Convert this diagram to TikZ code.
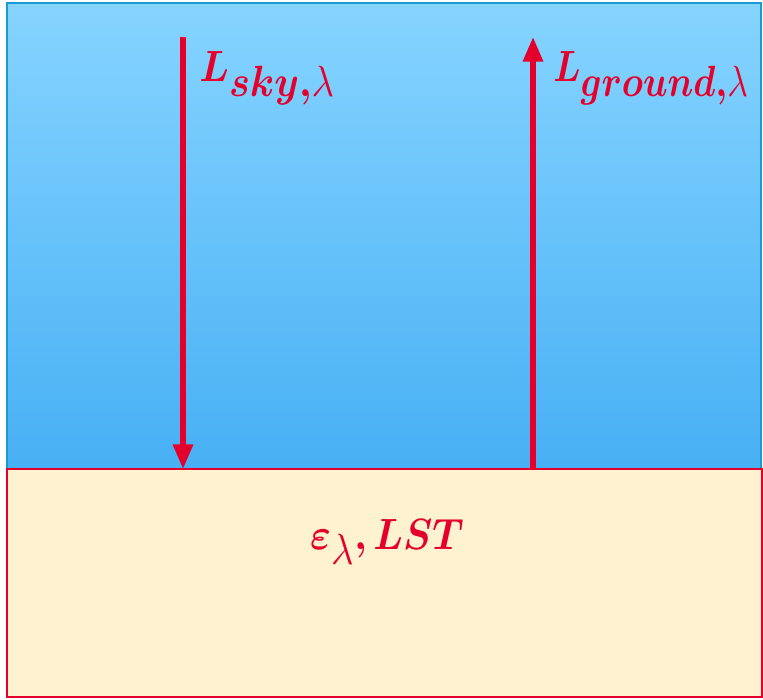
\documentclass[tikz,border=0pt]{standalone}
\definecolor{SkyTop}{HTML}{86D4FF}
\definecolor{SkyBottom}{HTML}{47B0F4}
\definecolor{SkyEdge}{HTML}{1B9AD6}
\definecolor{GroundFill}{HTML}{FEF2D1}
\definecolor{FluxRed}{HTML}{E4002B}
\usepackage{tikz}
\usetikzlibrary{arrows.meta, positioning, calc}
\usepackage{amsmath}
\usepackage{amssymb}
\usepackage{bm}
\tikzset{
    % Layer boxes with sharp corners
    layer/.style={
        rectangle,
        anchor=north west,
        inner sep=0pt,
        outer sep=0pt,
        line width=1.2pt
    },
    layer sky/.style={
        layer,
        draw=SkyEdge,
        top color=SkyTop,
        bottom color=SkyBottom,
        minimum width=15.08cm,
        minimum height=9.32cm
    },
    layer ground/.style={
        layer,
        draw=FluxRed,
        fill=GroundFill,
        minimum width=15.1cm,
        minimum height=4.56cm
    },
    flux label/.style={
        text=FluxRed,
        inner sep=0pt,
        xscale=0.9,
        font=\fontsize{33}{38}\selectfont
    },
    flux arrow/.style={
        -{Triangle[length=14pt, width=11pt]},
        line width=3pt,
        FluxRed
    }
}
\begin{document}
\begin{tikzpicture}[x=0.02cm, y=-0.02cm]
        \useasboundingbox (0,0) rectangle (763,699);

        % Sky
        \node[layer sky] (sky) at (7,3) {};

        % Ground
        \node[layer ground] (ground) at (7,469) {};

        % Arrow ends
        \coordinate (skytop) at (183,37);
        \coordinate (skybase) at (183,469);
        \coordinate (gndbase) at (533,469);
        \coordinate (gndtop) at (533,37);

        % Downwelling and upwelling radiance
        \draw[flux arrow] (skytop) -- (skybase);
        \draw[flux arrow] (gndbase) -- (gndtop);

        % Labels
        \node[flux label, anchor=west] (lsky) at (199,78) {$\bm{L}_{\bm{sky,}\lambda}$};
        \node[flux label, anchor=west, xscale=0.92] (lgnd) at (553,78) {$\bm{L}_{\bm{ground,}\lambda}$};
        \node[flux label] (emis) at (387,542) {$\bm{\varepsilon}_{\lambda}\bm{,LST}$};
    \end{tikzpicture}
\end{document}
